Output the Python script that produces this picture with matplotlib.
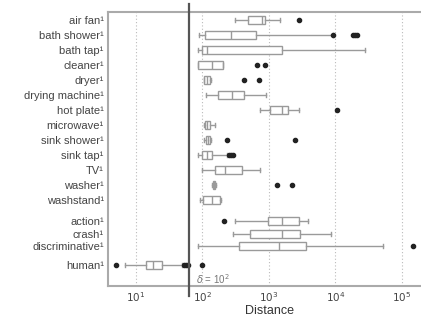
import matplotlib
matplotlib.use("Agg")
import matplotlib.pyplot as plt
import numpy as np

plt.rcParams['font.family'] = ['Liberation Sans', 'DejaVu Sans']

categories = ["air fan", "bath shower", "bath tap", "cleaner", "dryer", "drying machine",
              "hot plate", "microwave", "sink shower", "sink tap", "TV", "washer", "washstand",
              "action", "crash", "discriminative", "human"]
positions = [0, 1, 2, 3, 4, 5, 6, 7, 8, 9, 10, 11, 12, 13.4, 14.27, 15.07, 16.33]

# log10 values
whislo = [2.49, 1.95, 1.93, 1.93, 2.02, 2.05, 2.86, 2.02, 2.03, 1.93, 1.99, 2.15, 1.96, 2.49, 2.46, 1.93, 0.83]
q1     = [2.68, 2.04, 1.99, 1.93, 2.03, 2.23, 3.02, 2.04, 2.05, 1.99, 2.19, 2.16, 2.01, 2.98, 2.71, 2.55, 1.15]
med    = [2.89, 2.43, 2.07, 2.14, 2.07, 2.44, 3.20, 2.07, 2.08, 2.07, 2.34, 2.17, 2.14, 3.20, 3.20, 3.15, 1.26]
q3     = [2.94, 2.80, 3.20, 2.31, 2.12, 2.62, 3.29, 2.11, 2.12, 2.14, 2.59, 2.19, 2.26, 3.45, 3.47, 3.56, 1.39]
whishi = [3.17, 3.96, 4.44, 2.31, 2.13, 2.95, 3.45, 2.19, 2.13, 2.37, 2.86, 2.20, 2.28, 3.59, 3.93, 4.71, 1.69]
fliers = [[3.45], [3.96, 4.26, 4.29, 4.32], [], [2.82, 2.94], [2.62, 2.85], [], [4.02], [],
          [2.37, 3.39], [2.40, 2.43, 2.46], [], [3.12, 3.35], [], [2.32], [], [5.17, 5.33],
          [0.70, 1.73, 1.76, 1.79, 2.00]]

delta_log = 1.8
delta_label = r"$\delta$ = 10$^{2}$"
xticks = [1, 2, 3, 4, 5]

fig = plt.figure(figsize=(4.21, 3.23), dpi=100)
ax = fig.add_axes([108/421, (323-286)/323, (430-108)/421, (286-12)/323])

stats = []
for i in range(len(categories)):
    stats.append(dict(whislo=10**whislo[i], q1=10**q1[i], med=10**med[i], q3=10**q3[i],
                      whishi=10**whishi[i], fliers=[10**f for f in fliers[i]], label=categories[i]))

gray = "#9a9a9a"
ax.bxp(stats, positions=positions, vert=False, widths=0.55, patch_artist=True,
       boxprops=dict(facecolor="white", edgecolor=gray, linewidth=1.0),
       medianprops=dict(color=gray, linewidth=1.0),
       whiskerprops=dict(color=gray, linewidth=1.0),
       capprops=dict(color=gray, linewidth=1.0),
       capwidths=0.3,
       flierprops=dict(marker="o", markerfacecolor="#222222", markeredgecolor="#222222",
                       markersize=3.0, linestyle="none"))

ax.set_xscale("log")
ax.set_xlim(10**0.58, 10**(1 + (430-136)/66.5))
ax.set_ylim(17.73, -0.53)
ax.set_yticks(positions)
ax.set_yticklabels([c + "¹" for c in categories], fontsize=8, color="#444444")
ax.set_xticks([10**t for t in xticks])
ax.set_xticklabels([f"$10^{{{t}}}$" for t in xticks], fontsize=7.5, color="#444444")
ax.minorticks_off()
ax.tick_params(length=0, pad=3)
for t in xticks:
    ax.axvline(10**t, color="#bbbbbb", linestyle=(0, (1, 2)), linewidth=0.8, zorder=0)

for s in ax.spines.values():
    s.set_color("#aaaaaa")
    s.set_linewidth(1.5)
ax.spines["right"].set_visible(False)

ax.axvline(10**delta_log, ymin=-0.036, ymax=1.03, color="#555555", linewidth=1.6, clip_on=False, zorder=5)
ax.text(10**(delta_log + 0.1), 17.3, delta_label, fontsize=7, color="#777777", va="center")

ax.set_xlabel("Distance", fontsize=9, color="#333333", labelpad=1)

fig.savefig("out.png", dpi=100)
